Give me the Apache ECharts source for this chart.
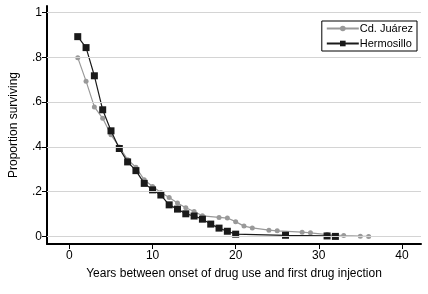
<!DOCTYPE html>
<html><head><meta charset="utf-8">
<script src="https://cdn.jsdelivr.net/npm/echarts@6/dist/echarts.min.js"></script>
<style>html,body{margin:0;padding:0;background:#fff}#c{width:428px;height:294px}</style>
</head><body><div id="c"></div>
<script>
const juarezX = [1,2,3,4,5,6,7,8,9,10,11,12,13,14,15,16,18,19,20,21,22,24,25,28,29,31,33,35,36];
const juarezY = [0.799,0.694,0.579,0.528,0.454,0.400,0.343,0.309,0.253,0.223,0.196,0.174,0.149,0.128,0.111,0.092,0.085,0.082,0.066,0.046,0.038,0.028,0.025,0.019,0.016,0.008,0.004,0.001,0.0];
const hermoX = [1,2,3,4,5,6,7,8,9,10,11,12,13,14,15,16,17,18,19,20,26,31,32];
const hermoY = [0.893,0.844,0.718,0.566,0.472,0.393,0.333,0.294,0.237,0.208,0.185,0.141,0.122,0.101,0.091,0.077,0.055,0.037,0.023,0.010,0.005,0.002,0.0];
const xTicks = [0,10,20,30,40];
const yTicks = [0,0.2,0.4,0.6,0.8,1];
const yTickLabels = ['0','.2','.4','.6','.8','1'];
const seriesNames = ['Cd. Juárez','Hermosillo'];

const font = 'Liberation Sans, Arial, sans-serif';
const chart = echarts.init(document.getElementById('c'));
chart.setOption({
  animation:false,
  backgroundColor:'#fff',
  grid:{left:39,top:6,right:7,bottom:50},
  legend:{
    data:seriesNames, orient:'vertical', right:11, top:21,
    borderColor:'#000', borderWidth:1, padding:[2,4,2,4], itemGap:4,
    itemWidth:32, itemHeight:7,
    textStyle:{fontFamily:font,fontSize:11,color:'#000',padding:[0,0,0,-4]},
    backgroundColor:'#fff'
  },
  xAxis:{
    type:'value', min:-2.7, max:42.3,
    name:'Years between onset of drug use and first drug injection',
    nameLocation:'middle', nameGap:24,
    nameTextStyle:{fontFamily:font,fontSize:12,color:'#000'},
    axisLine:{show:true,onZero:false,lineStyle:{color:'#000',width:2}},
    axisTick:{show:true,customValues:xTicks,length:5,lineStyle:{color:'#000',width:1}},
    axisLabel:{customValues:xTicks,fontFamily:font,fontSize:12,color:'#000',margin:6},
    splitLine:{show:false}
  },
  yAxis:{
    type:'value', min:-0.034, max:1.03,
    name:'Proportion surviving', nameLocation:'middle', nameGap:27,
    nameTextStyle:{fontFamily:font,fontSize:12,color:'#000'},
    axisLine:{show:true,onZero:false,lineStyle:{color:'#000',width:2}},
    axisTick:{show:true,customValues:yTicks,length:5,lineStyle:{color:'#000',width:1}},
    axisLabel:{customValues:yTicks,fontFamily:font,fontSize:12,color:'#000',margin:5,
      formatter:function(v){const i=yTicks.findIndex(t=>Math.abs(t-v)<1e-6);return i>=0?yTickLabels[i]:'';}},
    splitLine:{show:false}
  },
  series:[
    {name:seriesNames[0], type:'line', data:juarezX.map((x,i)=>[x,juarezY[i]]),
     symbol:'circle', symbolSize:5, itemStyle:{color:'#999'}, lineStyle:{color:'#999',width:1.2},
     markLine:{silent:true,symbol:'none',label:{show:false},
       lineStyle:{color:'#d4d4d4',width:1,type:'solid'},
       data:yTicks.map(v=>({yAxis:v}))},
     z:2},
    {name:seriesNames[1], type:'line', data:hermoX.map((x,i)=>[x,hermoY[i]]),
     symbol:'rect', symbolSize:7, itemStyle:{color:'#1a1a1a'}, lineStyle:{color:'#1a1a1a',width:1.2}, z:3}
  ]
});
</script></body></html>
